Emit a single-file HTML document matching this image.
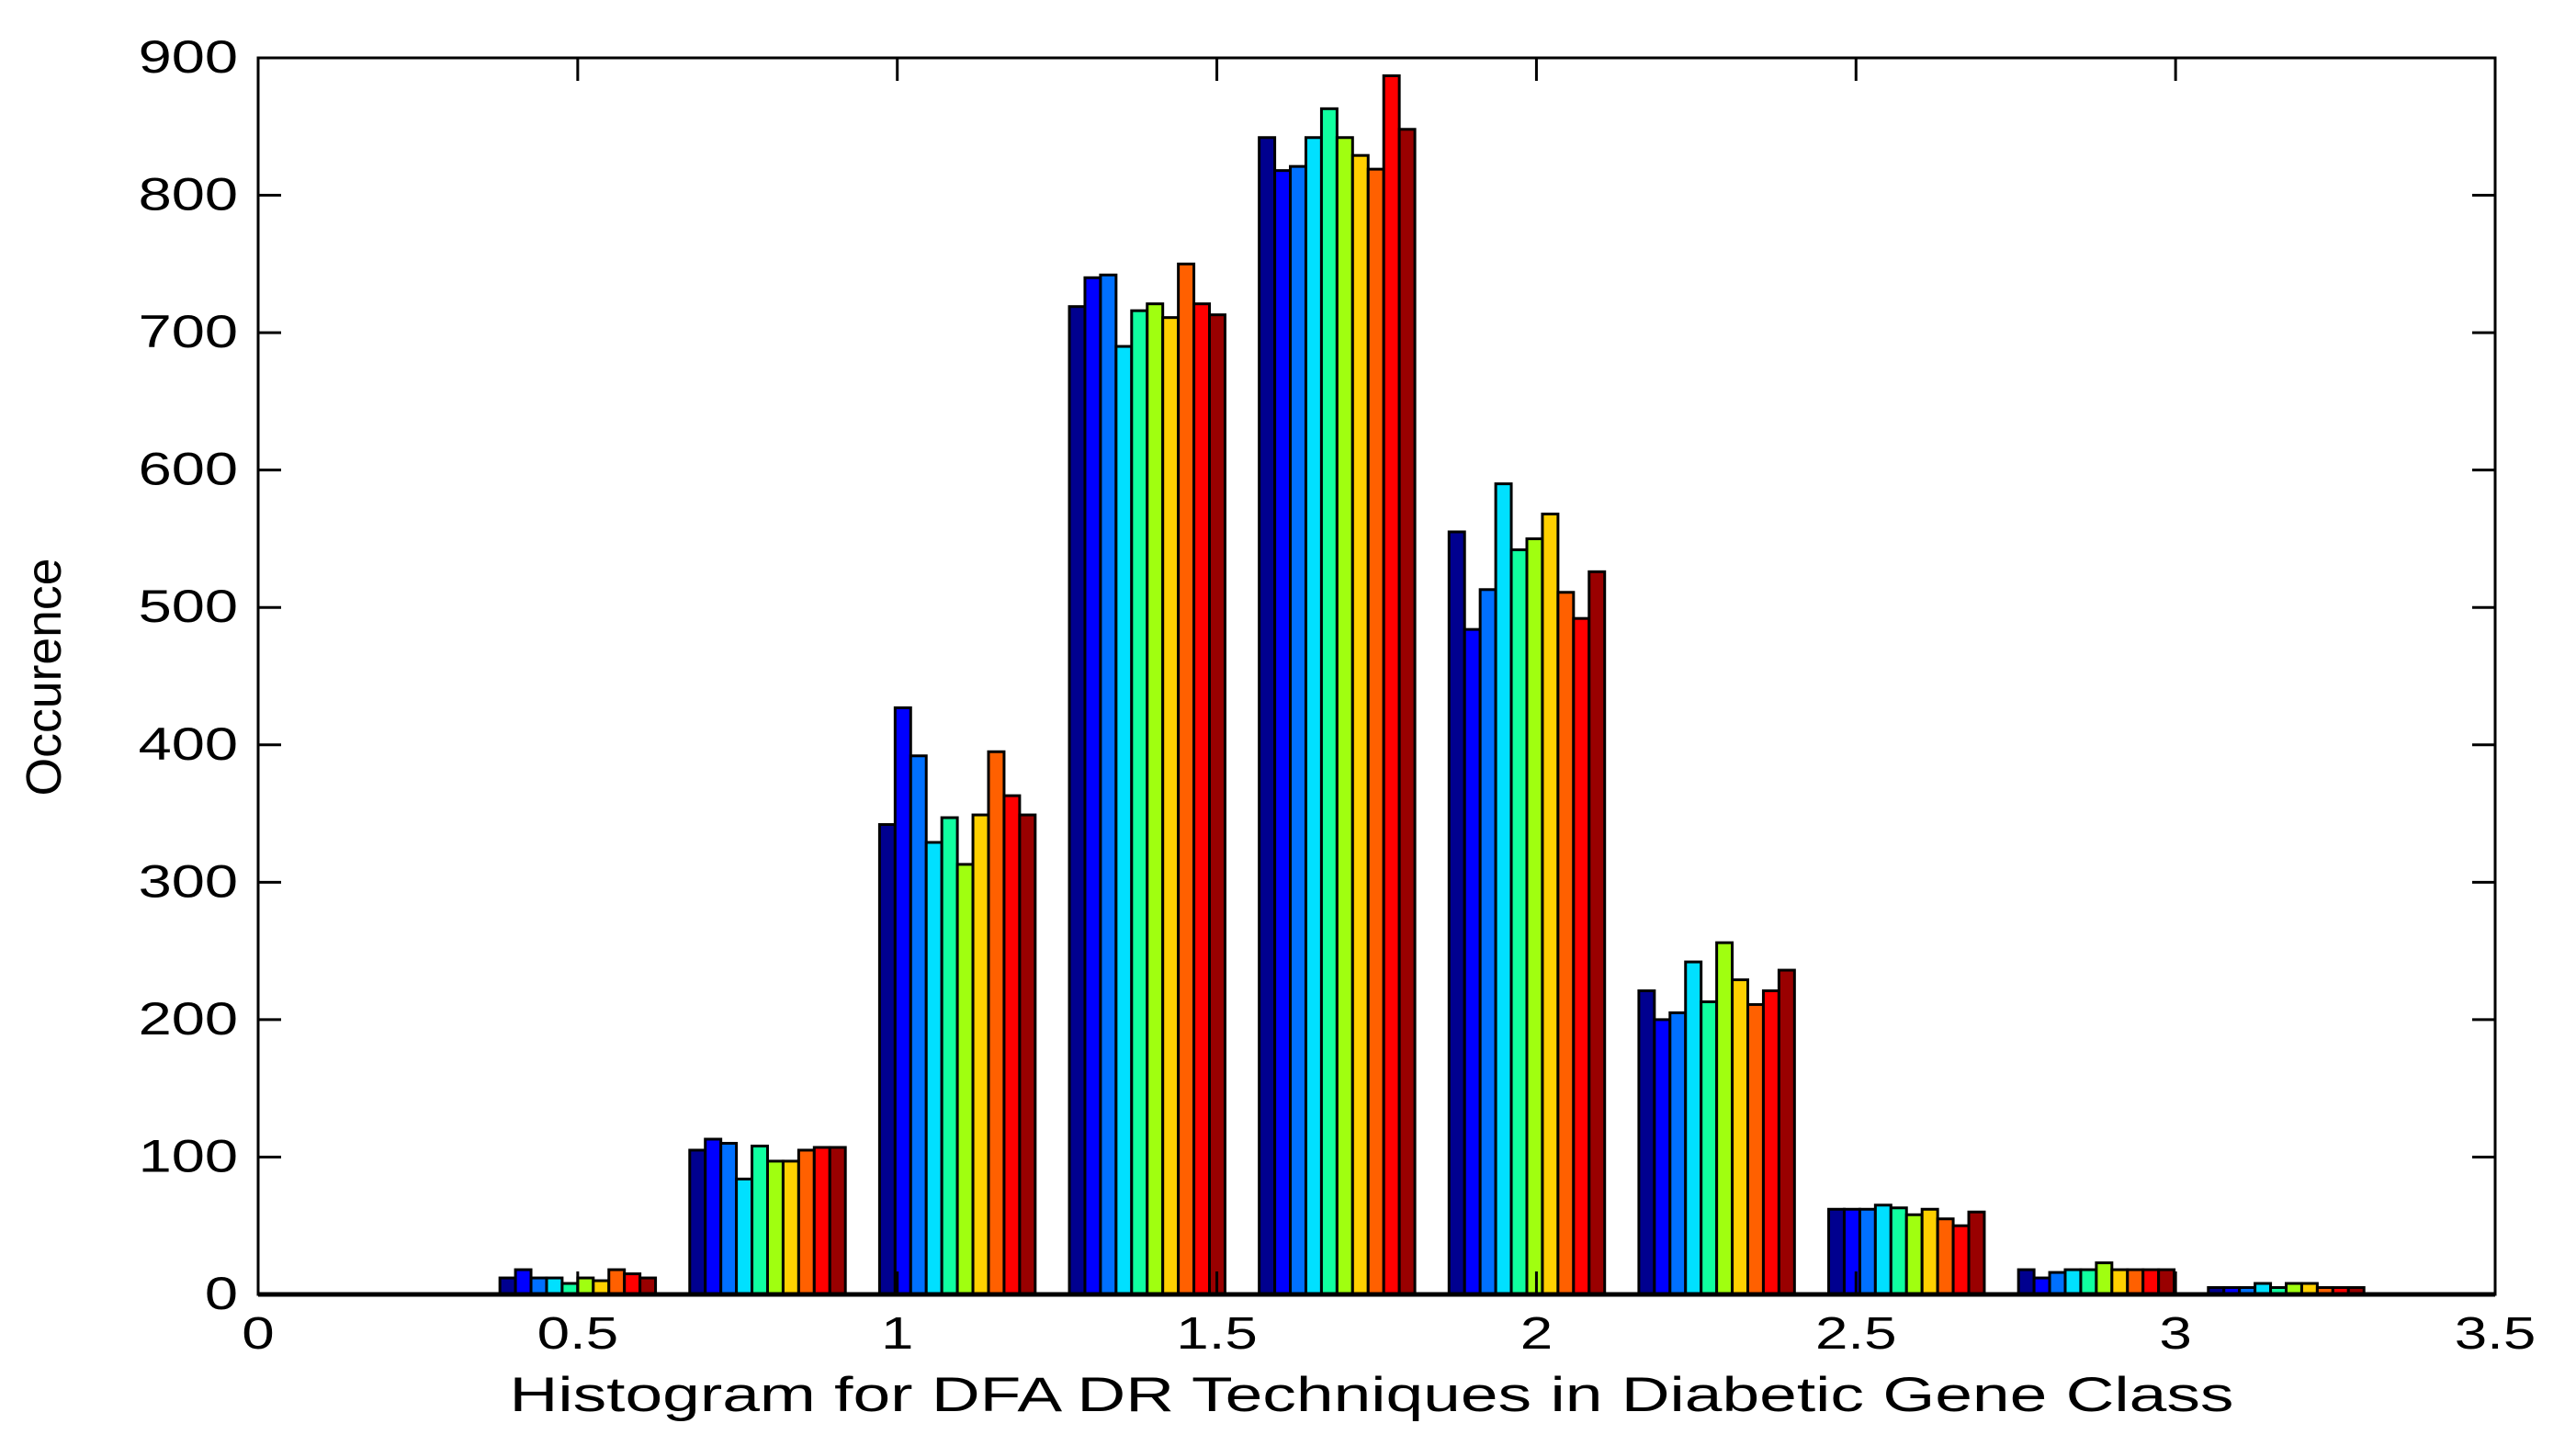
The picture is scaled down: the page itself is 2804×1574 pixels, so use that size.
<!DOCTYPE html>
<html><head><meta charset="utf-8"><style>
html,body{margin:0;padding:0;background:#fff;}
svg{display:block;font-family:"Liberation Sans",Arial,sans-serif;}
</style></head><body>
<svg id="chart" width="2804" height="1574" viewBox="0 0 2804 1574" xmlns="http://www.w3.org/2000/svg">
<rect x="0" y="0" width="2804" height="1574" fill="#fff"/>
<g id="bars"></g>
<g id="axes"></g>
<text x="1493" y="1536" font-size="53" text-anchor="middle" textLength="1877" lengthAdjust="spacingAndGlyphs">Histogram for DFA DR Techniques in Diabetic Gene Class</text>
<text transform="translate(66,737) rotate(-90)" font-size="54" text-anchor="middle" textLength="259" lengthAdjust="spacingAndGlyphs">Occurence</text>
</svg>
<script>
const binCenters = [0.5, 0.797, 1.094, 1.391, 1.688, 1.985, 2.282, 2.579, 2.876, 3.173];
const seriesColors = ["#00008f","#0000ff","#0070ff","#00e0ff","#10ffa0","#a0ff10","#ffd000","#ff6000","#ff0000","#990000"];
const s1 = [12,105,342,719,842,555,221,62,18,5];
const s2 = [18,113,427,740,818,484,200,62,12,5];
const s3 = [12,110,392,742,821,513,205,62,16,5];
const s4 = [12,84,329,690,842,590,242,65,18,8];
const s5 = [8,108,347,716,863,542,213,63,18,5];
const s6 = [12,97,313,721,842,550,256,58,23,8];
const s7 = [10,97,349,711,829,568,229,62,18,8];
const s8 = [18,105,395,750,819,511,211,55,18,5];
const s9 = [15,107,363,721,887,492,221,50,18,5];
const s10 = [12,107,349,713,848,526,236,60,18,5];
const series = [s1,s2,s3,s4,s5,s6,s7,s8,s9,s10];
const xTicks = [0,0.5,1,1.5,2,2.5,3,3.5];
const xTickLabels = ["0","0.5","1","1.5","2","2.5","3","3.5"];
const yTicks = [0,100,200,300,400,500,600,700,800,900];
const yTickLabels = ["0","100","200","300","400","500","600","700","800","900"];

const L=281,R=2716,T=63,B=1409;
const xs = v => L + (v-0)/(3.5-0)*(R-L);
const ys = v => B - v/900*(B-T);
const NS="http://www.w3.org/2000/svg";
const SX=1.3;
const bars=document.getElementById('bars'), axes=document.getElementById('axes');
const spacing = 0.297, groupW = spacing*0.82, bw = groupW/series.length;
series.forEach((s,si)=>{
  s.forEach((v,bi)=>{
    const x0 = binCenters[bi]-groupW/2+si*bw;
    const r=document.createElementNS(NS,'rect');
    r.setAttribute('x',xs(x0)); r.setAttribute('width',xs(x0+bw)-xs(x0));
    r.setAttribute('y',ys(v)); r.setAttribute('height',ys(0)-ys(v));
    r.setAttribute('fill',seriesColors[si]); r.setAttribute('stroke','#000'); r.setAttribute('stroke-width','3');
    
    
    bars.appendChild(r);
  });
});
function line(x1,y1,x2,y2,w){const l=document.createElementNS(NS,'line');l.setAttribute('x1',x1);l.setAttribute('y1',y1);l.setAttribute('x2',x2);l.setAttribute('y2',y2);l.setAttribute('stroke','#000');l.setAttribute('stroke-width',w);axes.appendChild(l);return l;}
const frame=document.createElementNS(NS,'rect');
frame.setAttribute('x',L);frame.setAttribute('y',T);frame.setAttribute('width',R-L);frame.setAttribute('height',B-T);
frame.setAttribute('fill','none');frame.setAttribute('stroke','#000');frame.setAttribute('stroke-width','3');


axes.appendChild(frame);
line(L,B,R,B,5);
xTicks.forEach((t,i)=>{
  const x=xs(t);
  line(x,B,x,B-25,3); line(x,T,x,T+25,3);
  const tx=document.createElementNS(NS,'text');
  tx.setAttribute('x',x/SX);tx.setAttribute('y',1468);tx.setAttribute('font-size','49');tx.setAttribute('text-anchor','middle');
  tx.setAttribute('transform','scale('+SX+',1)');
  tx.textContent=xTickLabels[i];
  
  
  axes.appendChild(tx);
});
yTicks.forEach((t,i)=>{
  const y=ys(t);
  line(L,y,L+25,y,3); line(R,y,R-25,y,3);
  const tx=document.createElementNS(NS,'text');
  tx.setAttribute('x',259/SX);tx.setAttribute('y',y+16);tx.setAttribute('font-size','50');tx.setAttribute('text-anchor','end');
  tx.setAttribute('transform','scale('+SX+',1)');
  tx.textContent=yTickLabels[i];
  
  
  axes.appendChild(tx);
});
</script>
</body></html>
